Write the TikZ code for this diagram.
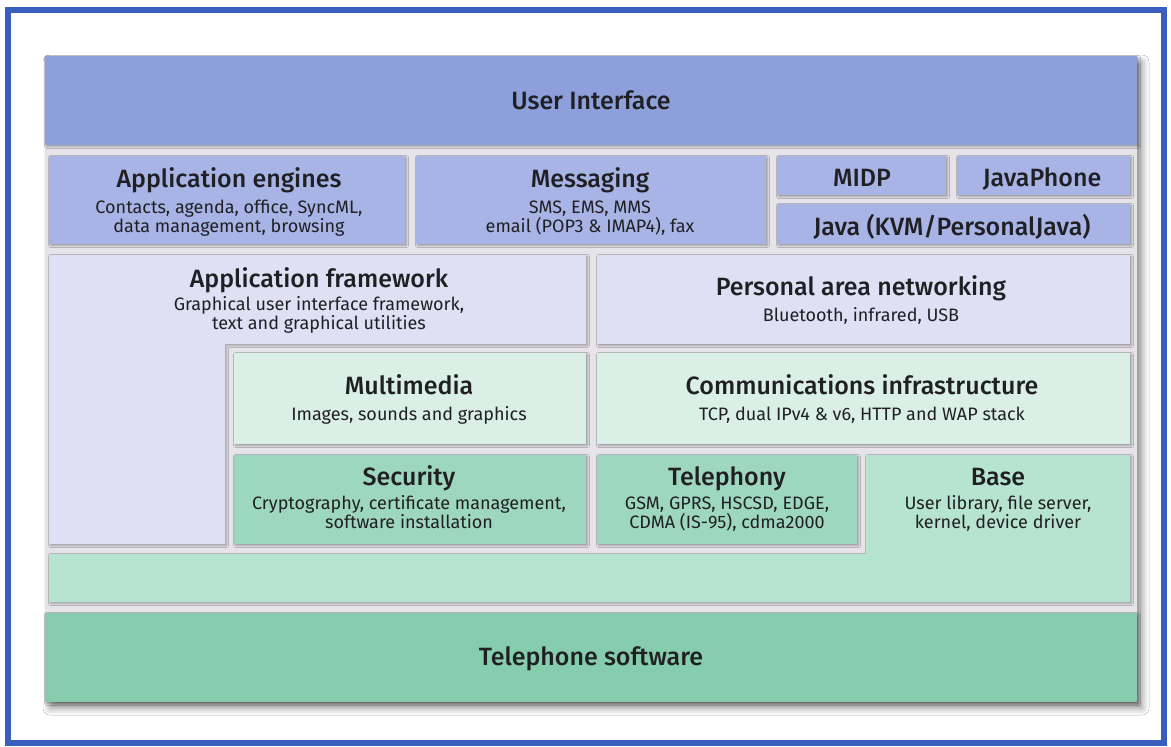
\documentclass[tikz,border=0pt]{standalone}
\usepackage{fontspec}
\setmainfont{Fira Sans}[BoldFont={Fira Sans Medium}]
\usetikzlibrary{shadows,shadows.blur}

\definecolor{framecol}{RGB}{58,94,192}
\definecolor{uiblue}{RGB}{141,160,219}
\definecolor{appblue}{RGB}{168,180,229}
\definecolor{lav}{RGB}{222,224,243}
\definecolor{mint}{RGB}{218,239,229}
\definecolor{midgreen}{RGB}{158,215,191}
\definecolor{lightgreen}{RGB}{182,228,208}
\definecolor{deepgreen}{RGB}{134,205,173}
\definecolor{gapgray}{RGB}{230,228,233}
\definecolor{ink}{RGB}{32,32,36}

% two centred lines whose baseline is that of the first line
\newcommand\twolines[2]{\vtop{\halign{\hfil##\hfil\cr#1\cr#2\cr}}}

\begin{document}
\begin{tikzpicture}[x=1pt,y=-1pt,
  tile/.style={blur shadow={shadow xshift=1.5pt,shadow yshift=-1.5pt,
      shadow blur radius=2pt,shadow opacity=35}},
  ttl/.style={font=\fontsize{25}{28}\selectfont\bfseries,text=ink,
      inner sep=0pt,anchor=base},
  sub/.style={font=\fontsize{18}{19.5}\selectfont,text=ink,
      inner sep=0pt,anchor=base},
]
% canvas
\fill[white] (0,0) rectangle (1171,747);
\useasboundingbox (0,0) rectangle (1171,747);
\draw[framecol,line width=6pt] (8,10) rectangle (1164,743);

% common underlay of the layer stack
\fill[gapgray,blur shadow={shadow xshift=5pt,shadow yshift=-6pt,
    shadow blur radius=7pt,shadow opacity=45}] (45,56) rectangle (1137,702);

% tiles
\fill[uiblue,tile] (45,56) rectangle (1137,145);
\fill[appblue,tile] (49,156) rectangle (405,244);
\fill[appblue,tile] (416,156) rectangle (766,244);
\fill[appblue,tile] (777,156) rectangle (946,195);
\fill[appblue,tile] (957,156) rectangle (1130,195);
\fill[appblue,tile] (777,204) rectangle (1130,244);
\fill[lav,tile] (49,255) -- (586,255) -- (586,344) -- (225,344)
   -- (225,544) -- (49,544) -- cycle;
\fill[lav,tile] (597,255) rectangle (1130,344);
\fill[mint,tile] (234,353) rectangle (586,444);
\fill[mint,tile] (597,353) rectangle (1130,444);
\fill[midgreen,tile] (234,455) rectangle (586,544);
\fill[midgreen,tile] (597,455) rectangle (857,544);
\fill[lightgreen,tile] (866,455) -- (1130,455) -- (1130,602) -- (49,602)
   -- (49,554) -- (866,554) -- cycle;
\fill[deepgreen,tile] (45,613) rectangle (1137,702);

% labels
\node[ttl] (ui) at (591,109) {User Interface};

\node[ttl] (appeng) at (229,187) {Application engines};
\node[sub] (appengsub) at (229,213)
  {\twolines{Contacts, agenda, office, SyncML,}{data management, browsing}};

\node[ttl] (msg) at (590,187) {Messaging};
\node[sub] (msgsub) at (590,213)
  {\twolines{SMS, EMS, MMS}{email (POP3 \& IMAP4), fax}};

\node[ttl] (midp) at (862,186) {MIDP};
\node[ttl] (javaphone) at (1042,186) {JavaPhone};
\node[ttl] (java) at (952,235) {Java (KVM/PersonalJava)};

\node[ttl] (appfw) at (319,287) {Application framework};
\node[sub] (appfwsub) at (319,310)
  {\twolines{Graphical user interface framework,}{text and graphical utilities}};

\node[ttl] (pan) at (861,295) {Personal area networking};
\node[sub] (pansub) at (861,321) {Bluetooth, infrared, USB};

\node[ttl] (mm) at (409,394) {Multimedia};
\node[sub] (mmsub) at (409,420) {Images, sounds and graphics};

\node[ttl] (comm) at (862,394) {Communications infrastructure};
\node[sub] (commsub) at (862,420) {TCP, dual IPv4 \& v6, HTTP and WAP stack};

\node[ttl] (sec) at (409,485) {Security};
\node[sub] (secsub) at (409,509)
  {\twolines{Cryptography, certificate management,}{software installation}};

\node[ttl] (tel) at (727,485) {Telephony};
\node[sub] (telsub) at (727,509)
  {\twolines{GSM, GPRS, HSCSD, EDGE,}{CDMA (IS-95), cdma2000}};

\node[ttl] (base) at (998,485) {Base};
\node[sub] (basesub) at (998,509)
  {\twolines{User library, file server,}{kernel, device driver}};

\node[ttl] (telsw) at (591,665) {Telephone software};
\end{tikzpicture}
\end{document}
